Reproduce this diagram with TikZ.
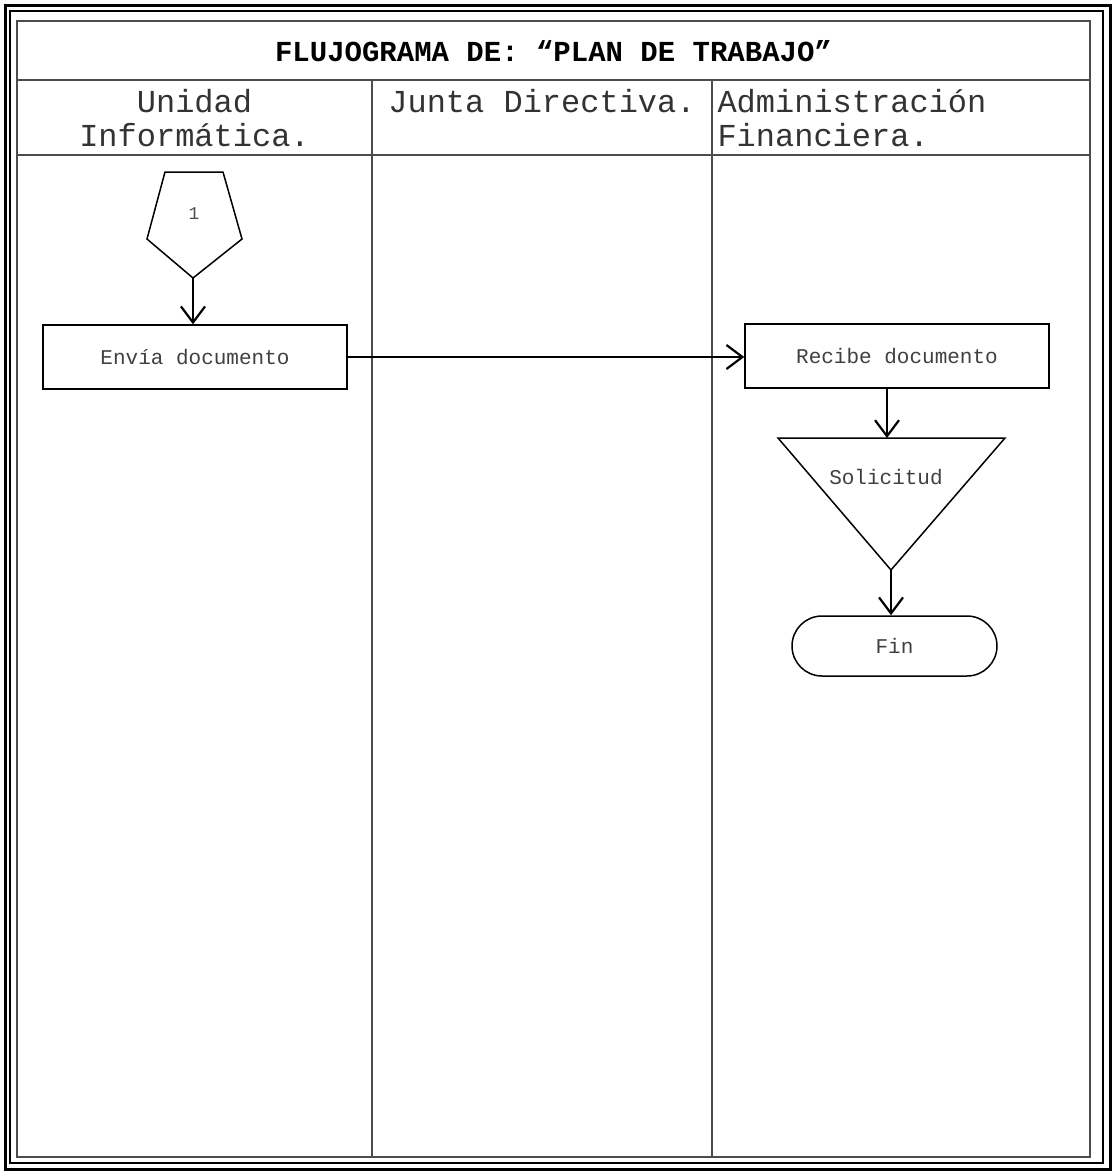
\documentclass[tikz,border=0pt]{standalone}
\usepackage{fontspec}
\setmainfont{Liberation Mono}
\usetikzlibrary{arrows.meta}
\begin{document}
\begin{tikzpicture}[x=1pt,y=-1pt,
  grid/.style={draw=black!70,line width=1.2pt},
  shapeline/.style={draw=black,line width=1.5pt},
  procbox/.style={shapeline,minimum width=304pt,minimum height=64pt,inner sep=0pt,
    font=\fontsize{21}{24}\selectfont,text=black!75},
  arr/.style={line width=2.2pt,-{Straight Barb[length=16pt,width=24pt,line width=2.2pt]}},
  head/.style={font=\fontsize{32}{34}\selectfont,text=black!80}]
\useasboundingbox (0,0) rectangle (1116,1173);

% double frame
\draw[line width=3pt] (5,5) rectangle (1110,1169);
\draw[line width=1.5pt] (10,11) rectangle (1103,1163);

% table grid
\draw[grid] (17,21) rectangle (1090,1157);
\draw[grid] (17,80) -- (1090,80);
\draw[grid] (17,155) -- (1090,155);
\draw[grid] (372,80) -- (372,1157);
\draw[grid] (712,80) -- (712,1157);

% title and lane headings
\node[font=\fontsize{29}{32}\selectfont\bfseries] (title) at (553.5,51) {FLUJOGRAMA DE: “PLAN DE TRABAJO”};
\node[head,align=center] (lane1) at (194.5,118) {Unidad\\Informática.};
\node[head] (lane2) at (542,101) {Junta Directiva.};
\node[head,align=left,anchor=west] (lane3) at (714,118) {Administración\\Financiera.};

% off-page connector 1
\coordinate (pa) at (165,172);
\coordinate (pb) at (223,172);
\coordinate (pc) at (242,239);
\coordinate (pbot) at (193,278);
\coordinate (pd) at (147,239);
\draw[shapeline] (pa) -- (pb) -- (pc) -- (pbot) -- (pd) -- cycle;
\node[font=\fontsize{18}{20}\selectfont,text=black!70] (conn) at (194,214) {1};

% process steps
\node[procbox] (envia) at (195,357) {Envía documento};
\node[procbox] (recibe) at (897,356) {Recibe documento};

% inverted triangle (archive)
\coordinate (ta) at (778,438);
\coordinate (tb) at (1005,438);
\coordinate (tbot) at (891,570);
\coordinate (ttop) at (887,438);
\draw[shapeline] (ta) -- (tb) -- (tbot) -- cycle;
\node[font=\fontsize{21}{24}\selectfont,text=black!75] (sol) at (886,477) {Solicitud};

% terminator
\node[shapeline,rounded corners=30pt,minimum width=205pt,minimum height=60pt,
  font=\fontsize{21}{24}\selectfont,text=black!75] (fin) at (894.5,646) {Fin};

% connectors
\draw[arr] (pbot) -- (pbot |- envia.north);
\draw[arr] (envia.east) -- (envia.east -| recibe.west);
\draw[arr] (recibe.south -| ttop) -- (ttop);
\draw[arr] (tbot) -- (tbot |- fin.north);
\end{tikzpicture}
\end{document}
